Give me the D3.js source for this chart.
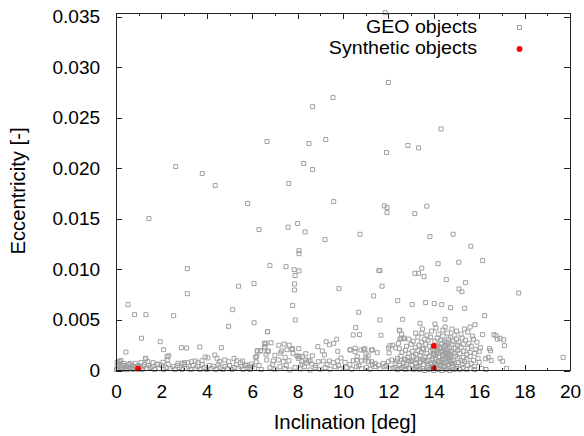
<!DOCTYPE html>
<html><head><meta charset="utf-8">
<script src="https://cdn.jsdelivr.net/npm/d3@7"></script>
<style>
body{margin:0;background:#fff}
svg{display:block}
text{font-family:"Liberation Sans",Arial,sans-serif;fill:#000}
</style>
</head><body>
<svg id="c" width="584" height="436"></svg>
<script>
const xTicks = [0,2,4,6,8,10,12,14,16,18,20];
const xMinorTicks = [1,3,5,7,9,11,13,15,17,19];
const yTicks = [0,0.005,0.010,0.015,0.020,0.025,0.030,0.035];
const yTickLabels = ["0","0.005","0.010","0.015","0.020","0.025","0.030","0.035"];
const xTitle = "Inclination [deg]";
const yTitle = "Eccentricity [-]";
const legendLabels = ["GEO objects","Synthetic objects"];

// GEO objects: [inclination deg, eccentricity]
const geoSparse = [
[1.45,0.01503],[2.63,0.02018],[3.80,0.01949],[4.37,0.01830],[5.80,0.01652],[6.65,0.02266],[7.61,0.01850],
[11.86,0.0354],[12.00,0.0285],[9.56,0.0270],[8.66,0.0261],[14.32,0.0239],[9.24,0.02285],[8.50,0.02246],
[12.86,0.02226],[13.33,0.02203],[11.92,0.02157],[8.27,0.02048],[8.66,0.01988],[9.59,0.01671],[11.82,0.01629],
[11.94,0.01612],[11.94,0.01562],[13.16,0.01552],[13.69,0.01626],[8.00,0.01454],[8.33,0.01371],[10.75,0.01348],
[9.21,0.01295],[13.83,0.01325],[14.85,0.01348],[15.63,0.01230],[8.06,0.01186],[8.06,0.01156],[14.19,0.01057],
[15.10,0.01071],[16.15,0.01087],[7.85,0.00998],[8.06,0.00985],[7.89,0.00939],[11.58,0.00990],[11.63,0.00988],
[13.17,0.00962],[13.33,0.00962],[13.47,0.01012],[13.57,0.00929],[14.55,0.00899],[15.40,0.00869],[7.86,0.00857],
[7.86,0.00797],[9.82,0.00810],[11.72,0.00834],[15.11,0.00807],[15.24,0.00780],[17.74,0.00767],[11.35,0.00738],
[12.41,0.00691],[13.05,0.00652],[13.64,0.00672],[14.02,0.00662],[14.35,0.00652],[14.74,0.00622],[15.36,0.00615],
[16.24,0.00543],[7.78,0.00642],[10.69,0.00576],[12.63,0.00507],[11.62,0.00500],[7.90,0.00500],[3.14,0.01008],
[3.14,0.00760],[0.53,0.00652],[0.82,0.00553],[1.32,0.00553],[2.54,0.00543],[5.40,0.00834],[6.08,0.00860],
[6.30,0.01394],[7.58,0.01418],[7.49,0.01028],[6.78,0.01038],[5.14,0.00602],[6.08,0.00473],[4.96,0.00437],
[13.39,0.00467],[14.05,0.00460],[14.49,0.00507],[15.81,0.00453],[10.56,0.00424]
];
const geoMidBand = [
[16.15,0.00355],[16.74,0.00345],[16.80,0.0031],[17.08,0.00304],[17.11,0.00246],[16.05,0.00225],[16.5,0.00195],
[16.28,0.00116],[16.53,0.00099],[17.03,0.00092],[19.7,0.0013],[17.2,0.0002],[16.65,0.00355],[16.92,0.00319],
[16.45,0.00216],[16.92,0.00121],[16.4,0.0013],[12.5,0.00394],[12.58,0.00359],[12.51,0.00312],[12.70,0.00315],
[13.47,0.00368],[10.45,0.00352],[10.73,0.00355],[11.67,0.00349],[9.26,0.00285],[9.59,0.00269],[9.40,0.00255],
[9.72,0.00309],[8.89,0.00236],[9.09,0.00193],[9.18,0.00156],[9.77,0.0019],[10.32,0.00203],[10.53,0.00186],
[10.79,0.00203],[10.91,0.00203],[11.29,0.00203],[11.01,0.00166],[11.11,0.00146],[12.03,0.00173],[12.19,0.0025],
[12.32,0.00223],[12.44,0.0027],[6.68,0.00384],[6.61,0.00269],[6.83,0.00275],[7.17,0.0025],[7.41,0.00262],
[7.63,0.0025],[7.75,0.00206],[8.05,0.00216],[8.36,0.00166],[8.21,0.0014],[8.03,0.0014],[7.3,0.00193],[7.53,0.00206],
[7.24,0.00173],[6.68,0.00186],[6.61,0.0016],[6.22,0.00193],[6.37,0.00193],[6.55,0.0027],[6.55,0.00236],[6.71,0.00193],
[6.2,0.0014],[6.15,0.0013],[10.31,0.00206],[10.54,0.0022],[10.96,0.00216],[11.25,0.00203],[11.51,0.00176],
[10.63,0.00137],[11.01,0.00127],[12.01,0.00223],[12.07,0.00245],[12.48,0.00216],[12.56,0.00315],[12.48,0.00398],
[12.66,0.00322],[7.78,0.00216],[7.97,0.00146],[8.1,0.00137],[8.37,0.00104],[8.55,0.00094],[8.65,0.00146],
[7.0,0.0015],[7.45,0.0013],[7.8,0.0017],
[0.44,0.00183],[1.12,0.00319],[1.95,0.00285],[2.10,0.00206],[2.88,0.00226],[3.11,0.00222],[3.69,0.00233],
[4.64,0.00226],[6.24,0.00196],[6.36,0.00196],[6.55,0.00265],[6.55,0.00223],[6.67,0.00384]
];
const geoLowBand = [
[0.05,0.0002],[0.1,0.0006],[0.15,0.0009],[0.2,0.0003],[0.25,0.0001],[0.3,0.0005],[0.35,0.0007],[0.4,0.0002],
[0.45,0.0004],[0.5,0.0001],[0.55,0.0006],[0.6,0.0003],[0.65,0.0002],[0.7,0.0005],[0.75,0.0001],[0.8,0.0004],
[0.85,0.0007],[0.9,0.0002],[1.0,0.0005],[1.05,0.0003],[1.1,0.0008],[1.15,0.0001],[1.2,0.0004],[1.25,0.0006],
[1.3,0.0012],[1.35,0.0002],[1.4,0.0009],[1.45,0.0005],[1.5,0.0003],[0.02,0.0001],[0.08,0.0004],[0.12,0.0001],
[0.18,0.0007],[0.28,0.0003],[0.38,0.0005],[0.42,0.0001],[0.62,0.0007],[0.72,0.0002],[0.95,0.0004],[1.18,0.0002],
[0.05,0.0008],[0.22,0.0010],
[1.6,0.0004],[1.7,0.0001],[1.8,0.0006],[1.9,0.0002],[2.0,0.0005],[2.1,0.0001],[2.2,0.0003],[2.3,0.0006],[2.4,0.0002],
[2.5,0.0004],[2.6,0.0001],[2.7,0.0005],[2.8,0.0003],[2.9,0.0001],[3.0,0.0006],[3.1,0.0002],[3.2,0.0004],[3.3,0.0001],
[3.4,0.0005],[3.5,0.0002],[3.6,0.0004],[3.7,0.0001],[3.8,0.0006],[3.9,0.0003],[4.0,0.0001],[4.1,0.0005],[4.2,0.0002],
[4.3,0.0004],[4.4,0.0001],[4.5,0.0006],[4.6,0.0003],[4.7,0.0001],[4.8,0.0004],[4.9,0.0002],[5.0,0.0005],[5.1,0.0001],
[5.2,0.0003],[5.3,0.0006],[5.4,0.0002],[5.5,0.0004],[5.6,0.0001],[5.7,0.0005],[5.8,0.0003],[5.9,0.0001],[6.0,0.0004],
[6.1,0.0002],[6.3,0.0005],[6.4,0.0001],
[1.63,0.00077],[1.85,0.00064],[2.07,0.00081],[2.73,0.00071],[2.91,0.00071],[3.02,0.00077],[3.17,0.00077],
[3.32,0.00087],[3.49,0.00094],[3.61,0.00077],[3.79,0.00097],[3.93,0.00134],[4.05,0.00124],[4.35,0.00153],
[4.45,0.0012],[4.57,0.00087],[4.79,0.00104],[4.96,0.00087],[5.20,0.0012],[5.32,0.00097],[5.49,0.00077],
[5.58,0.00094],[5.74,0.00054],[5.96,0.00064],[6.18,0.00084],[2.25,0.00137],[2.26,0.00104],[1.31,0.00114],[2.32,0.00146],
[6.64,0.00104],[6.93,0.00094],[7.15,0.00104],[7.37,0.00087],[7.62,0.00097],[8.03,0.0012],[8.18,0.00087],[8.40,0.00077],
[8.47,0.00097],[8.62,0.00064],[8.91,0.00087],[9.13,0.00094],[9.40,0.00094],[9.57,0.00077],[9.77,0.00094],[9.91,0.00124],
[10.09,0.0008],[10.46,0.00097],[10.60,0.00104],[10.82,0.00094],[10.97,0.00104],[11.12,0.00087],[11.26,0.00087],
[11.41,0.0007],[11.56,0.00054],[11.78,0.0007],[12.0,0.00087],[12.14,0.00104],[12.36,0.00094],[12.58,0.00104],
[12.73,0.0011],[12.88,0.00097],[13.03,0.00097],[13.25,0.00104],[13.39,0.00087],[13.54,0.00104],
[6.78,0.00031],[7.0,0.00012],[7.22,0.00038],[7.44,0.00021],[7.66,0.00005],[7.89,0.00031],[8.11,0.00015],[8.30,0.00038],
[8.55,0.00005],[8.77,0.00031],[8.99,0.00012],[9.21,0.00028],[9.43,0.00012],[9.65,0.00038],[9.87,0.00018],[10.16,0.00031],
[10.38,0.00012],[10.6,0.00038],[10.82,0.00018],[11.04,0.00031],[11.19,0.00012],[11.41,0.00038],[11.63,0.00018],
[11.85,0.00038],[12.07,0.00018],[12.29,0.00031],[12.51,0.00018],[12.73,0.00038],[12.95,0.00018],[13.17,0.00031],[13.39,0.00012],
[6.9,0.0006],[7.5,0.0005],[8.2,0.0006],[8.8,0.0005],[9.3,0.0006],[9.8,0.0005],[10.3,0.0006],[10.7,0.0005],[11.3,0.0006],[11.9,0.0005]
];
const geoCluster = [
[13.2,0.0037],[13.5,0.0041],[13.7,0.0035],[13.9,0.0039],[14.1,0.0042],[14.2,0.0036],[14.4,0.0040],[14.5,0.0043],
[14.6,0.0037],[14.8,0.0041],[14.9,0.0035],[15.0,0.0039],[15.2,0.0036],[15.35,0.0041],[15.5,0.0038],[15.6,0.0043],[15.7,0.0034],
[12.9,0.0031],[13.1,0.0029],[13.3,0.0033],[13.45,0.0028],[13.6,0.0031],[13.75,0.0030],[13.85,0.0033],[14.05,0.0029],
[14.15,0.0032],[14.3,0.0030],[14.4,0.0034],[14.55,0.0028],[14.65,0.0031],[14.75,0.0033],[14.85,0.0029],[15.0,0.0031],
[15.1,0.0028],[15.25,0.0032],[15.4,0.0030],[15.55,0.0027],[15.75,0.0031],[15.9,0.0028],
[12.8,0.0024],[13.0,0.0026],[13.2,0.0023],[13.35,0.0025],[13.5,0.0022],[13.65,0.0026],[13.8,0.0024],[13.95,0.0021],
[14.1,0.0025],[14.25,0.0023],[14.35,0.0027],[14.45,0.0022],[14.55,0.0025],[14.7,0.0023],[14.8,0.0026],[14.95,0.0022],
[15.05,0.0025],[15.2,0.0023],[15.3,0.0026],[15.5,0.0022],[15.65,0.0024],[15.85,0.0021],
[12.6,0.0018],[12.75,0.0020],[12.9,0.0017],[13.05,0.0019],[13.2,0.0016],[13.3,0.0020],[13.45,0.0018],[13.55,0.0021],
[13.7,0.0017],[13.85,0.0019],[14.0,0.0016],[14.15,0.0020],[14.2,0.0017],[14.3,0.0019],[14.4,0.0016],[14.5,0.0020],
[14.6,0.0018],[14.7,0.0016],[14.8,0.0019],[14.9,0.0017],[15.05,0.0020],[15.15,0.0017],[15.3,0.0019],[15.45,0.0016],
[15.6,0.0018],[15.8,0.0017],[16.0,0.0019],
[12.4,0.0012],[12.55,0.0014],[12.7,0.0011],[12.85,0.0013],[13.0,0.0010],[13.1,0.0014],[13.25,0.0012],[13.4,0.0015],
[13.5,0.0011],[13.6,0.0013],[13.75,0.0010],[13.8,0.0014],[13.95,0.0012],[14.05,0.0015],[14.1,0.0011],[14.25,0.0013],
[14.35,0.0010],[14.4,0.0014],[14.5,0.0012],[14.6,0.0015],[14.65,0.0011],[14.75,0.0013],[14.85,0.0010],[14.95,0.0014],
[15.05,0.0012],[15.2,0.0010],[15.3,0.0013],[15.45,0.0011],[15.6,0.0014],[15.75,0.0010],[15.95,0.0012],
[12.3,0.0007],[12.5,0.0005],[12.65,0.0008],[12.8,0.0006],[12.95,0.0009],[13.05,0.0005],[13.2,0.0007],[13.3,0.0004],
[13.4,0.0008],[13.55,0.0006],[13.65,0.0009],[13.75,0.0005],[13.85,0.0007],[13.95,0.0004],[14.05,0.0008],[14.15,0.0006],
[14.2,0.0009],[14.3,0.0005],[14.4,0.0007],[14.5,0.0004],[14.55,0.0008],[14.65,0.0006],[14.75,0.0009],[14.85,0.0005],
[14.9,0.0007],[15.0,0.0004],[15.1,0.0008],[15.25,0.0006],[15.35,0.0009],[15.5,0.0005],[15.65,0.0007],[15.8,0.0004],[16.0,0.0008],
[12.2,0.0002],[12.4,0.0001],[12.6,0.0003],[12.75,0.0001],[12.9,0.0002],[13.1,0.0001],[13.25,0.0003],[13.35,0.0001],
[13.5,0.0002],[13.6,0.0000],[13.7,0.0003],[13.8,0.0001],[13.9,0.0002],[14.0,0.0000],[14.1,0.0003],[14.2,0.0001],
[14.3,0.0002],[14.35,0.0000],[14.45,0.0003],[14.55,0.0001],[14.6,0.0002],[14.7,0.0000],[14.8,0.0003],[14.9,0.0001],
[15.0,0.0002],[15.15,0.0001],[15.3,0.0003],[15.45,0.0001],[15.6,0.0002],[15.8,0.0001],[16.1,0.0002],[16.3,0.0001],
[14.02,0.0021],[14.12,0.0018],[14.22,0.0013],[14.28,0.0022],[14.33,0.0008],[14.38,0.0019],[14.42,0.0011],[14.47,0.0024],
[14.52,0.0017],[14.58,0.0009],[14.62,0.0021],[14.68,0.0014],[14.72,0.0019],[14.78,0.0007],[14.18,0.0024],[14.08,0.0006],
[13.98,0.0017],[13.92,0.0010],[14.48,0.0029],[14.63,0.0027]
];
const syntheticObjects = [[0.97,0.00018],[14.0,0.00243],[14.0,0.00022]];

const geoObjects = geoSparse.concat(geoMidBand, geoLowBand, geoCluster);

const svg = d3.select("#c");
const x = d3.scaleLinear().domain([0,20]).range([116,570]);
const y = d3.scaleLinear().domain([0,0.03537]).range([370.5,13]);
const frameColor = "#222";
const geoColor = "#a0a0a0";
const textStretch = 1.06;

// points
const sq = d3.symbol(d3.symbolSquare, 16);
svg.append("g").selectAll("path").data(geoObjects).join("path")
  .attr("d", sq)
  .attr("transform", d => `translate(${x(d[0])},${y(d[1])})`)
  .attr("fill","none").attr("stroke",geoColor).attr("stroke-width",1);

svg.append("g").selectAll("circle").data(syntheticObjects).join("circle")
  .attr("cx", d => x(d[0])).attr("cy", d => y(d[1])).attr("r", 2.9)
  .attr("fill","#ff0000");

// axes
function styleAxis(g){
  g.select(".domain").remove();
  g.selectAll(".tick line").attr("stroke",frameColor).attr("shape-rendering","crispEdges");
  g.selectAll("text").attr("font-size","18px").attr("fill","#000")
   .attr("font-family",'"Liberation Sans",Arial,sans-serif');
}
const yBot = y(0), yTop = y(0.03537), xL = x(0), xR = x(20);

svg.append("g").attr("transform",`translate(0,${yBot})`)
  .call(d3.axisBottom(x).tickValues(xTicks).tickSize(-6).tickPadding(15).tickFormat(d3.format("d")))
  .call(styleAxis)
  .call(g => g.selectAll("text").attr("transform",`scale(${textStretch},1)`));
svg.append("g").attr("transform",`translate(0,${yBot})`)
  .call(d3.axisBottom(x).tickValues(xMinorTicks).tickSize(-3).tickFormat(""))
  .call(styleAxis);
svg.append("g").attr("transform",`translate(0,${yTop})`)
  .call(d3.axisTop(x).tickValues(xTicks).tickSize(-6).tickFormat(""))
  .call(styleAxis);
svg.append("g").attr("transform",`translate(0,${yTop})`)
  .call(d3.axisTop(x).tickValues(xMinorTicks).tickSize(-3).tickFormat(""))
  .call(styleAxis);
svg.append("g").attr("transform",`translate(${xL},0)`)
  .call(d3.axisLeft(y).tickValues(yTicks).tickSize(-6).tickPadding(15).tickFormat((d,i)=>yTickLabels[i]))
  .call(styleAxis)
  .call(g => g.selectAll("text").attr("transform",`scale(${textStretch},1)`));
svg.append("g").attr("transform",`translate(${xR},0)`)
  .call(d3.axisRight(y).tickValues(yTicks).tickSize(-6).tickFormat(""))
  .call(styleAxis);

// frame
svg.append("rect").attr("x",xL).attr("y",yTop).attr("width",xR-xL).attr("height",yBot-yTop)
  .attr("fill","none").attr("stroke",frameColor).attr("stroke-width",1).attr("shape-rendering","crispEdges");

// titles
svg.append("text").attr("transform","translate(345,429) scale(1.045,1)").attr("text-anchor","middle")
  .attr("font-size","19.5px").text(xTitle);
svg.append("text").attr("transform","translate(25,191) rotate(-90) scale(1.04,1)").attr("text-anchor","middle")
  .attr("font-size","19.5px").text(yTitle);

// legend
const leg = svg.append("g");
leg.append("text").attr("transform",`translate(477,33) scale(${textStretch},1)`).attr("text-anchor","end").attr("font-size","18.5px").text(legendLabels[0]);
leg.append("text").attr("transform",`translate(477,54) scale(${textStretch},1)`).attr("text-anchor","end").attr("font-size","18.5px").text(legendLabels[1]);
leg.append("path").attr("d",sq).attr("transform","translate(519.5,27.5)")
  .attr("fill","none").attr("stroke",geoColor).attr("stroke-width",1);
leg.append("circle").attr("cx",519.5).attr("cy",49).attr("r",2.9).attr("fill","#ff0000");
</script>
</body></html>
